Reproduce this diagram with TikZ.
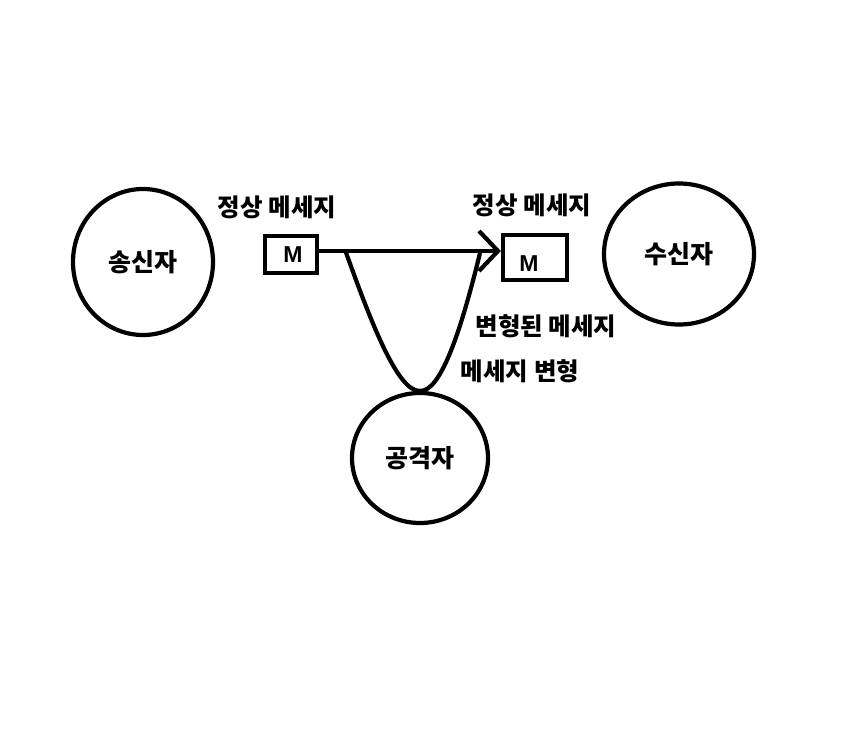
\documentclass[tikz,border=0pt]{standalone}
\usepackage{fontspec}
\setmainfont{Noto Sans CJK KR}
\setsansfont{Liberation Sans}
\usepackage{tikz}
\usetikzlibrary{shapes, arrows.meta, calc, positioning}

\begin{document}
\begin{tikzpicture}[
    x=1pt, y=-1pt,
    line width=4.2pt,
    >={Straight Barb[length=19pt, width=40pt]}
]
    \useasboundingbox (0,0) rectangle (846,736);

    % Styles
    \tikzstyle{party} = [draw, ellipse, inner sep=0pt, font=\fontsize{25}{28}\selectfont\bfseries]
    \tikzstyle{msgbox} = [draw, rectangle, inner sep=0pt]
    \tikzstyle{msgletter} = [font=\sffamily\bfseries\fontsize{23}{26}\selectfont]
    \tikzstyle{caption} = [font=\fontsize{24.5}{28}\selectfont\bfseries]

    % Parties
    \node [party, minimum width=140pt, minimum height=146pt] (Sender) at (143,262) {송신자};
    \node [party, minimum width=150pt, minimum height=141pt] (Receiver) at (679,254) {수신자};
    \node [party, minimum width=136pt, minimum height=130pt] (Attacker) at (420,458) {공격자};

    % Messages
    \node [msgbox, minimum width=52pt, minimum height=37pt] (MsgA) at (291,254.5) {};
    \node [msgletter] (LetterA) at (293,255) {M};
    \node [msgbox, minimum width=64pt, minimum height=45pt] (MsgB) at (535,257.5) {};
    \node [msgletter] (LetterB) at (529,264) {M};

    % Labels
    \node [caption] (NormalA) at (277,207) {정상 메세지};
    \node [caption] (NormalB) at (532,205) {정상 메세지};
    \node [caption] (Altered) at (546,326) {변형된 메세지};
    \node [caption] (Alter) at (520,371) {메세지 변형};

    % Connections
    \draw [->] ([yshift=3.5pt]MsgA.east) -- ([yshift=3.5pt]MsgA.east -| MsgB.west);
    \coordinate (tapIn) at ($([yshift=3.5pt]MsgA.east)!0.145!([yshift=3.5pt]MsgA.east -| MsgB.west)$);
    \coordinate (tapOut) at (480,253);
    \draw (tapIn) .. controls (372,325) and (398,392) .. (Attacker.north)
                  .. controls (440,392) and (460,335) .. (tapOut);

\end{tikzpicture}
\end{document}
